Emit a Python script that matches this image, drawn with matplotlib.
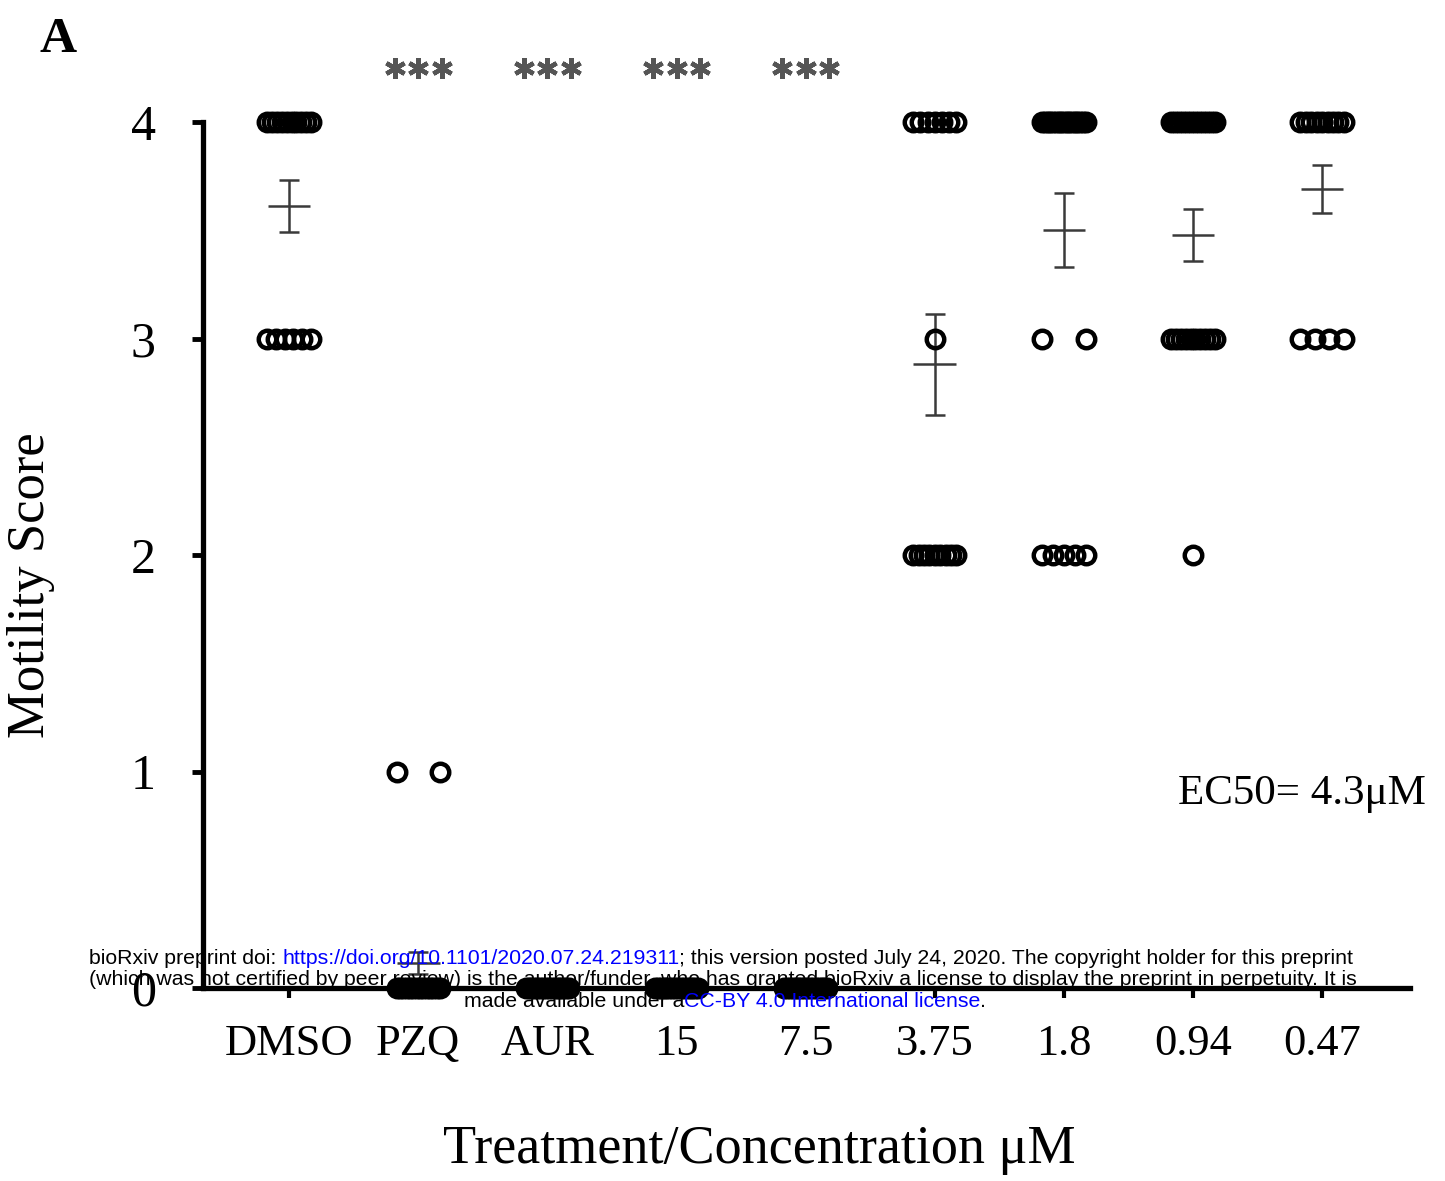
import numpy as np
import matplotlib
matplotlib.use('Agg')
import matplotlib.pyplot as plt

# motility scores per treatment: how many worms got each score
groups = ['DMSO', 'PZQ', 'AUR', '15', '7.5', '3.75', '1.8', '0.94', '0.47']
n_score4 = [10, 0, 0, 0, 0, 7, 17, 12, 9]
n_score3 = [6, 0, 0, 0, 0, 1, 2, 10, 4]
n_score2 = [0, 0, 0, 0, 0, 9, 5, 1, 0]
n_score1 = [0, 2, 0, 0, 0, 0, 0, 0, 0]
n_score0 = [0, 14, 16, 16, 16, 0, 0, 0, 0]

# mean and SEM
means = [3.61, 0.115, 0.0, 0.0, 0.0, 2.88, 3.50, 3.48, 3.69]
sems = [0.12, 0.05, 0.0, 0.0, 0.0, 0.235, 0.17, 0.12, 0.11]

signif = ['', '***', '***', '***', '***', '', '', '', '']

serif = 'Liberation Serif'

fig = plt.figure(figsize=(14.45, 11.81), dpi=100)
ax = fig.add_axes([203/1445, 1-988/1181, 1207/1445, 866/1181])

x = np.arange(len(groups))
half = 0.168

counts = {4: n_score4, 3: n_score3, 2: n_score2, 1: n_score1, 0: n_score0}
for score, ns in counts.items():
    for i, n in enumerate(ns):
        if n == 0:
            continue
        if n == 1:
            xs = np.array([x[i]])
        else:
            xs = x[i] + np.linspace(-half, half, n)
        ax.plot(xs, np.full(n, score), 'o', mfc='none', mec='black',
                ms=12.6, mew=3.2, clip_on=False, zorder=3)

# mean line + sem
for i in range(len(groups)):
    ax.hlines(means[i], x[i]-0.165, x[i]+0.165, color='#3a3a3a', lw=1.8, zorder=2)
    if sems[i] > 0:
        ax.errorbar(x[i], means[i], yerr=sems[i], fmt='none', ecolor='#3a3a3a',
                    elinewidth=1.8, capsize=7.5, capthick=1.8, zorder=2)

# significance stars
for i, s in enumerate(signif):
    if s:
        ax.plot(x[i] + np.array([-0.18, 0, 0.18]), [4.25]*3, ls='none',
                marker=(6, 2, 0), ms=15, mew=3.2, color='#555555', clip_on=False)

ax.set_xlim(-0.667, 8.68)
ax.set_ylim(0, 4)
ax.set_xticks(x)
ax.set_xticklabels(groups, fontfamily=serif, fontsize=32)
ax.set_yticks([0, 1, 2, 3, 4])
ax.set_yticklabels(['0', '1', '2', '3', '4'], fontfamily=serif, fontsize=36)
ax.tick_params(axis='x', length=7, width=3, pad=19)
ax.tick_params(axis='y', length=8, width=3.5, pad=26)
for side in ['top', 'right']:
    ax.spines[side].set_visible(False)
for side in ['left', 'bottom']:
    ax.spines[side].set_linewidth(3.8)

fig.text(31/1445, 1-585/1181, 'Motility Score', rotation=90, ha='center', va='center',
         fontfamily=serif, fontsize=38)
fig.text(759/1445, 1-1150/1181, 'Treatment/Concentration \u03bcM', ha='center', va='center',
         fontfamily=serif, fontsize=39)
fig.text(40/1445, 1-52/1181, 'A', fontfamily=serif, fontweight='bold', fontsize=37)
fig.text(1178/1445, 1-804/1181, 'EC50= 4.3\u03bcM', fontfamily=serif, fontsize=31)

# bioRxiv watermark
blue = '#0000ff'
wm_lines = [
    [('bioRxiv preprint doi: ', 'black'), ('https://doi.org/10.1101/2020.07.24.219311', blue),
     ('; this version posted July 24, 2020. The copyright holder for this preprint', 'black')],
    [('(which was not certified by peer review) is the author/funder, who has granted bioRxiv a license to display the preprint in perpetuity. It is', 'black')],
    [('made available under a', 'black'), ('CC-BY 4.0 International license', blue), ('.', 'black')],
]
wm_y = [964, 985, 1007]
wm_size = 15.3

r = fig.canvas.get_renderer()


def text_width(s):
    t = fig.text(0, 0, s + '|', fontfamily='Liberation Sans', fontsize=wm_size)
    t2 = fig.text(0, 0, '|', fontfamily='Liberation Sans', fontsize=wm_size)
    w = t.get_window_extent(r).width - t2.get_window_extent(r).width
    t.remove()
    t2.remove()
    return w


for k, pieces in enumerate(wm_lines):
    full = ''.join(p[0] for p in pieces)
    if k == 2:
        x0 = 725 - text_width(full) / 2
    else:
        x0 = 89
    prefix = ''
    for s, c in pieces:
        px = x0 + (text_width(prefix) if prefix else 0)
        fig.text(px/1445, 1-wm_y[k]/1181, s, color=c, fontfamily='Liberation Sans',
                 fontsize=wm_size, va='baseline', zorder=10)
        prefix += s

fig.savefig('out.png', dpi=100)
